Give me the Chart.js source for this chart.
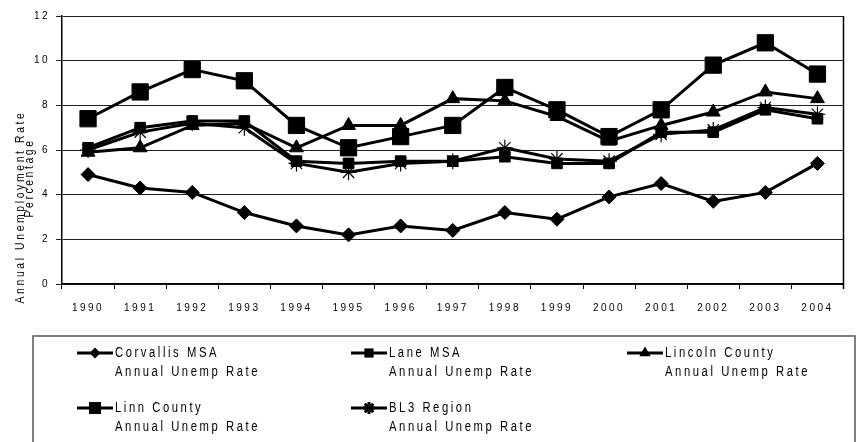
<!DOCTYPE html>
<html>
<head>
<meta charset="utf-8">
<script src="https://cdn.jsdelivr.net/npm/chart.js@4.4.1/dist/chart.umd.min.js"></script>
<style>
  html, body { margin: 0; padding: 0; background: #fff; }
  #wrap { width: 856px; height: 442px; }
</style>
</head>
<body>
<div id="wrap"><canvas id="unempChart" width="856" height="442"></canvas></div>
<script>
// data
var years = ['1990', '1991', '1992', '1993', '1994', '1995', '1996', '1997', '1998', '1999', '2000', '2001', '2002', '2003', '2004'];
var corvallisMSA = [4.9, 4.3, 4.1, 3.2, 2.6, 2.2, 2.6, 2.4, 3.2, 2.9, 3.9, 4.5, 3.7, 4.1, 5.4];
var laneMSA = [6.1, 7.0, 7.3, 7.3, 5.5, 5.4, 5.5, 5.5, 5.7, 5.4, 5.4, 6.8, 6.8, 7.8, 7.4];
var lincolnCounty = [5.9, 6.1, 7.1, 7.2, 6.1, 7.1, 7.1, 8.3, 8.2, 7.5, 6.4, 7.1, 7.7, 8.6, 8.3];
var linnCounty = [7.4, 8.6, 9.6, 9.1, 7.1, 6.1, 6.6, 7.1, 8.8, 7.8, 6.6, 7.8, 9.8, 10.8, 9.4];
var bl3Region = [6.0, 6.8, 7.2, 7.0, 5.4, 5.0, 5.4, 5.5, 6.1, 5.6, 5.5, 6.7, 6.9, 7.9, 7.6];
var yTicks = [0, 2, 4, 6, 8, 10, 12];
var seriesNames = ['Corvallis MSA', 'Lane MSA', 'Lincoln County', 'Linn County', 'BL3 Region'];
var subLabel = 'Annual Unemp Rate';

var FONT = '"Liberation Sans Narrow", "Arial Narrow", "Liberation Sans", Arial, sans-serif';

function series(label, data, style, radius) {
    return {
        label: label,
        data: data,
        borderColor: '#000',
        backgroundColor: '#000',
        borderWidth: 3,
        pointStyle: style,
        pointRadius: radius,
        pointHoverRadius: radius,
        pointBorderWidth: style == 'star' ? 1.2 : 1,
        pointBorderColor: '#000',
        pointBackgroundColor: '#000',
        tension: 0
    };
}

// draws text squeezed sideways so it looks like the narrow font of the original
function narrowText(ctx, text, x, y, sx) {
    ctx.save();
    ctx.translate(x, y);
    ctx.scale(sx, 1);
    ctx.fillText(text, 0, 0);
    ctx.restore();
}

// custom legend + y title + frame
var extras = {
    id: 'extras',
    beforeDraw: function(chart) {
        chart.ctx.letterSpacing = '2.5px';
    },
    afterDraw: function(chart) {
        var ctx = chart.ctx;
        var a = chart.chartArea;
        ctx.save();
        // right frame line
        ctx.strokeStyle = '#000';
        ctx.lineWidth = 1.5;
        ctx.beginPath();
        ctx.moveTo(a.right, a.top);
        ctx.lineTo(a.right, a.bottom + 5);
        ctx.stroke();

        // y title (two overlapping lines, as in the picture)
        ctx.fillStyle = '#000';
        ctx.font = '12px ' + FONT;
        ctx.letterSpacing = '3px';
        ctx.textBaseline = 'middle';
        ctx.textAlign = 'center';
        var t1 = 'Annual Unemployment Rate';
        var t2 = 'Percentage';
        var s1 = 193 / ctx.measureText(t1).width;
        var s2 = 79 / ctx.measureText(t2).width;
        ctx.save();
        ctx.translate(21, 207);
        ctx.rotate(-Math.PI / 2);
        narrowText(ctx, t1, 0, 0, s1);
        ctx.restore();
        ctx.save();
        ctx.translate(30, 178);
        ctx.rotate(-Math.PI / 2);
        narrowText(ctx, t2, 0, 0, s2);
        ctx.restore();

        // legend box
        ctx.strokeStyle = '#555';
        ctx.lineWidth = 1.5;
        ctx.strokeRect(33, 336, 822, 120);

        var cols = [77, 351, 627];
        var rows = [353, 408];
        var sizes = [5.5, 6.5, 6.5, 8.5, 6];
        ctx.font = '14px ' + FONT;
        ctx.letterSpacing = '3.2px';
        ctx.textAlign = 'left';
        var sx = 145 / ctx.measureText(subLabel).width;
        chart.data.datasets.forEach(function(ds, i) {
            var cx = cols[i % 3];
            var cy = rows[Math.floor(i / 3)];
            ctx.strokeStyle = '#000';
            ctx.lineWidth = 3;
            ctx.beginPath();
            ctx.moveTo(cx, cy);
            ctx.lineTo(cx + 36, cy);
            ctx.stroke();
            Chart.helpers.drawPoint(ctx, {
                pointStyle: ds.pointStyle,
                radius: sizes[i],
                rotation: 0,
                borderWidth: ds.pointStyle == 'star' ? 1 : 0
            }, cx + 18, cy);
            ctx.fillStyle = '#000';
            narrowText(ctx, ds.label, cx + 38, cy, sx);
            narrowText(ctx, subLabel, cx + 38, cy + 19, sx);
        });
        ctx.restore();
    }
};

var ctx = document.getElementById('unempChart').getContext('2d');
var unempChart = new Chart(ctx, {
    type: 'line',
    data: {
        labels: years,
        datasets: [
            series(seriesNames[0], corvallisMSA, 'rectRot', 7),
            series(seriesNames[1], laneMSA, 'rect', 7.5),
            series(seriesNames[2], lincolnCounty, 'triangle', 8),
            series(seriesNames[3], linnCounty, 'rect', 11.5),
            series(seriesNames[4], bl3Region, 'star', 8)
        ]
    },
    options: {
        responsive: false,
        animation: false,
        layout: { padding: { top: 16, right: 11, bottom: 118, left: 0 } },
        plugins: {
            legend: { display: false },
            tooltip: { enabled: false }
        },
        scales: {
            x: {
                offset: true,
                grid: {
                    offset: true,
                    drawOnChartArea: false,
                    drawTicks: true,
                    tickLength: 5,
                    color: '#000',
                    lineWidth: 1
                },
                border: { color: '#000', width: 1.5 },
                ticks: {
                    color: '#000',
                    font: { family: FONT, size: 10 },
                    padding: 13,
                    maxRotation: 0,
                    autoSkip: false
                },
                afterFit: function(scale) { scale.height = 40; }
            },
            y: {
                min: 0,
                max: 12,
                afterBuildTicks: function(scale) {
                    scale.ticks = yTicks.map(function(v) { return { value: v }; });
                },
                grid: {
                    color: '#222',
                    lineWidth: 1,
                    tickLength: 6
                },
                border: { color: '#000', width: 1.5 },
                ticks: {
                    color: '#000',
                    font: { family: FONT, size: 10 },
                    padding: 6
                },
                afterFit: function(scale) { scale.width = 62; }
            }
        }
    },
    plugins: [extras]
});
</script>
</body>
</html>
